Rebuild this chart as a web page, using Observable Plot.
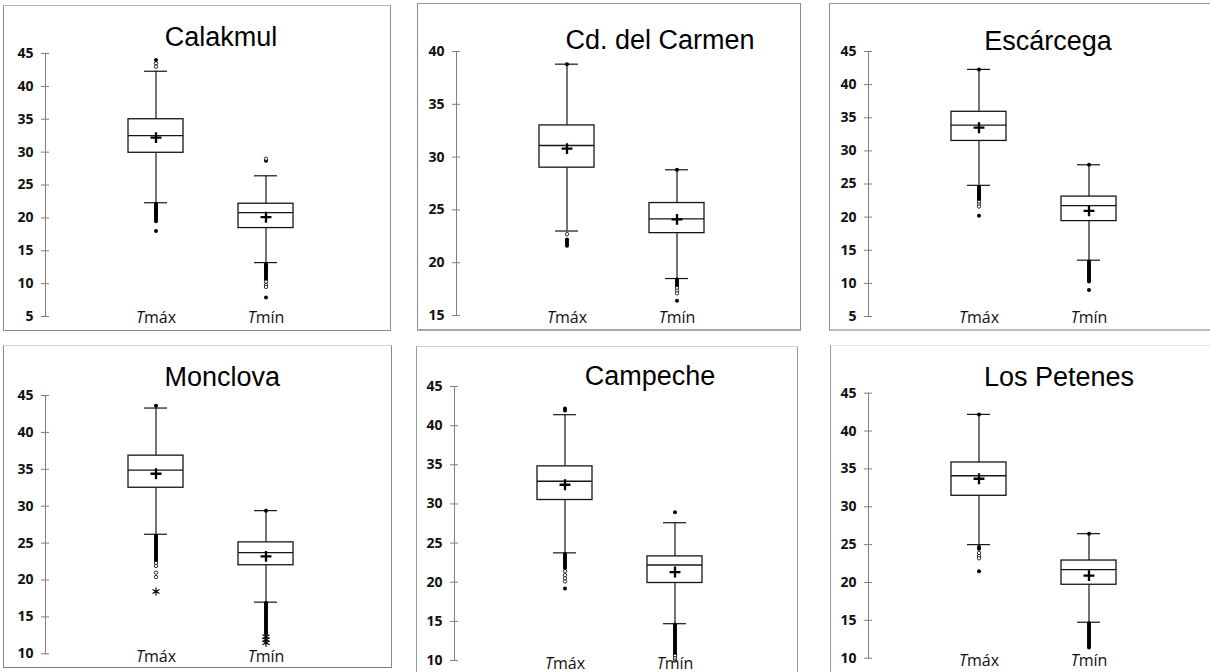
<!DOCTYPE html>
<html><head><meta charset="utf-8">
<script src="https://cdn.jsdelivr.net/npm/d3@7"></script>
<script src="https://cdn.jsdelivr.net/npm/@observablehq/plot@0.6"></script>
<style>
html,body{margin:0;padding:0;background:#fff;}
body{width:1210px;height:672px;overflow:hidden;position:relative;}
.panel{position:absolute;}
.panel svg{display:block;}
.border{position:absolute;box-sizing:border-box;pointer-events:none;}
</style></head><body>
<script>
// ---------- data ----------
const stations = ["Calakmul", "Cd. del Carmen", "Escárcega", "Monclova", "Campeche", "Los Petenes"];
const categories = ["Tmáx", "Tmín"];
const yDomains = [[5, 45], [15, 40], [5, 45], [10, 45], [10, 45], [10, 45]];
const yTicks = [
  [5, 10, 15, 20, 25, 30, 35, 40, 45],
  [15, 20, 25, 30, 35, 40],
  [5, 10, 15, 20, 25, 30, 35, 40, 45],
  [10, 15, 20, 25, 30, 35, 40, 45],
  [10, 15, 20, 25, 30, 35, 40, 45],
  [10, 15, 20, 25, 30, 35, 40, 45]
];
// [Tmáx, Tmín] per station
const lowerWhisker = [[22.3, 13.2], [23.0, 18.5], [24.8, 13.5], [26.2, 17.0], [23.75, 14.7], [25.0, 14.75]];
const q1 = [[29.9, 18.45], [29.0, 22.8], [31.5, 19.4], [32.5, 22.0], [30.5, 19.9], [31.45, 19.7]];
const median = [[32.5, 20.8], [31.1, 24.15], [33.9, 21.75], [34.9, 23.7], [32.9, 22.2], [34.1, 21.7]];
const q3 = [[35.0, 22.15], [33.0, 25.65], [35.9, 23.1], [36.85, 25.1], [34.8, 23.3], [35.85, 22.9]];
const upperWhisker = [[42.3, 26.4], [38.8, 28.8], [42.3, 27.9], [43.3, 29.4], [41.4, 27.6], [42.2, 26.45]];
const mean = [[32.2, 20.1], [30.8, 24.1], [33.5, 20.95], [34.4, 23.2], [32.45, 21.3], [33.7, 20.9]];

const outFilled = [
  [[44.0, 22.1, 21.9, 21.7, 21.5, 21.3, 21.1, 20.9, 20.7, 20.5, 20.3, 20.1, 19.9, 19.7, 19.5, 18.0],
   [28.7, 13.0, 12.8, 12.6, 12.4, 12.2, 12.0, 11.8, 11.6, 11.4, 11.2, 11.0, 10.8, 10.6, 7.9]],
  [[38.8, 22.2, 22.05, 21.9, 21.75, 21.6],
   [28.8, 18.4, 18.25, 18.1, 17.95, 17.8, 16.4]],
  [[42.3, 24.6, 24.4, 24.2, 24.0, 23.8, 23.6, 23.4, 23.2, 23.0, 22.8, 22.6, 20.2],
   [27.9, 13.3, 13.1, 12.9, 12.7, 12.5, 12.3, 12.1, 11.9, 11.7, 11.5, 11.3, 11.1, 10.9, 10.7, 10.5, 10.3, 9.0]],
  [[43.6, 26.0, 25.8, 25.6, 25.4, 25.2, 25.0, 24.8, 24.6, 24.4, 24.2, 24.0, 23.8, 23.6, 23.4, 23.2, 23.0, 22.8, 22.6],
   [29.4, 16.9, 16.7, 16.5, 16.3, 16.1, 15.9, 15.7, 15.5, 15.3, 15.1, 14.9, 14.7, 14.5, 14.3, 14.1, 13.9, 13.7, 13.5, 13.3, 13.1, 12.9, 12.7]],
  [[42.2, 41.95, 23.6, 23.4, 23.2, 23.0, 22.8, 22.6, 22.4, 22.2, 22.0, 21.8, 19.2],
   [28.95, 14.6, 14.4, 14.2, 14.0, 13.8, 13.6, 13.4, 13.2, 13.0, 12.8, 12.6, 12.4, 12.2, 12.0, 11.8, 11.6, 11.4, 11.2, 11.0, 10.8]],
  [[42.2, 24.7, 24.45, 21.5],
   [26.45, 14.6, 14.4, 14.2, 14.0, 13.8, 13.6, 13.4, 13.2, 13.0, 12.8, 12.6, 12.4, 12.2, 12.0, 11.8, 11.6, 11.4]]
];
const outOpen = [
  [[43.5, 43.0], [29.0, 10.3, 9.8, 9.5]],
  [[22.7], [17.6, 17.35, 17.1]],
  [[22.3, 21.9, 21.6], []],
  [[22.3, 21.9, 21.0, 20.4], []],
  [[21.4, 20.9, 20.5, 20.1], [10.6, 10.3, 10.0]],
  [[23.9, 23.5, 23.2], []]
];
const outStar = [
  [[], []], [[], []], [[], []],
  [[18.45], [12.3, 11.9, 11.5]],
  [[], []], [[], []]
];

// ---------- layout (page pixels) ----------
const layout = [
  {left: 3, top: 5, width: 388, height: 326, axisX: 45, yTop: 53, yBot: 316, titleDx: 10.5, titleDy: -7.3, labelOff: 6.7,
   border: {borderTop: "1px solid #b4b4b4", borderLeft: "1px solid #8a8a8a", borderRight: "1px solid #8a8a8a", borderBottom: "1px solid #8a8a8a"}},
  {left: 417, top: 3, width: 384, height: 328, axisX: 456, yTop: 51, yBot: 315, titleDx: 38.5, titleDy: -2.7, labelOff: 7.7,
   border: {borderTop: "1px solid #9a9a9a", borderLeft: "1px solid #8a8a8a", borderRight: "1px solid #8a8a8a", borderBottom: "2px solid #a8a8a8"}},
  {left: 829, top: 3, width: 385, height: 328, axisX: 868, yTop: 51, yBot: 316, titleDx: 14.5, titleDy: -2, labelOff: 6.7,
   border: {borderTop: "1px solid #9a9a9a", borderLeft: "1px solid #8a8a8a", borderBottom: "2px solid #bdbdbd"}},
  {left: 3, top: 345, width: 389, height: 323, axisX: 45, yTop: 395, yBot: 653.3, titleDx: 11.7, titleDy: -9.3, labelOff: 7.7,
   border: {borderTop: "1px solid #d4d4d4", borderLeft: "1px solid #8a8a8a", borderRight: "1px solid #8a8a8a", borderBottom: "1px solid #7a7a7a"}},
  {left: 416, top: 346, width: 382, height: 344, axisX: 454, yTop: 386, yBot: 660, titleDx: 30.5, titleDy: -1.7, labelOff: 8.5,
   border: {borderTop: "1px solid #d4d4d4", borderLeft: "1px solid #9a9a9a", borderRight: "1px solid #9a9a9a"}},
  {left: 830, top: 345, width: 385, height: 345, axisX: 868, yTop: 392.7, yBot: 657.7, titleDx: 25.5, titleDy: -7.7, labelOff: 7.3,
   border: {borderTop: "1px solid #e6e6e6", borderLeft: "1px solid #9a9a9a"}}
];

const ink = "#161616";

stations.forEach((name, i) => {
  const L = layout[i];
  const mL = L.axisX - L.left;
  const mR = L.width - mL - 330;
  const mT = L.yTop - L.top;
  const mB = L.height - (L.yBot - L.top);

  const boxes = categories.map((c, j) => ({
    cat: c, lo: lowerWhisker[i][j], q1: q1[i][j], med: median[i][j], q3: q3[i][j], hi: upperWhisker[i][j], mean: mean[i][j]
  }));
  const toRows = arr => categories.flatMap((c, j) => arr[i][j].map(v => ({cat: c, v})));
  const filled = toRows(outFilled), open = toRows(outOpen), stars = toRows(outStar);

  const chart = Plot.plot({
    width: L.width, height: L.height,
    marginLeft: mL, marginRight: mR, marginTop: mT, marginBottom: mB,
    x: {type: "band", domain: categories, paddingInner: 0.5, paddingOuter: 0.75, align: 0.5, axis: null},
    y: {domain: yDomains[i], axis: null},
    style: {fontFamily: "'Open Sans', sans-serif", fontSize: "14px", background: "transparent", overflow: "visible"},
    marks: [
      Plot.frame({anchor: "left", stroke: "#808080", strokeWidth: 1}),
      Plot.axisY({ticks: yTicks[i], tickSize: 8, dx: 4, tickPadding: 8, stroke: "#808080", fill: "#111",
                  fontWeight: "bold", fontSize: 14, label: null, tickFormat: d => String(d)}),
      Plot.ruleX(boxes, {x: "cat", y1: "lo", y2: "q1", stroke: ink, strokeWidth: 1.2}),
      Plot.ruleX(boxes, {x: "cat", y1: "q3", y2: "hi", stroke: ink, strokeWidth: 1.2}),
      Plot.tickY(boxes, {x: "cat", y: "lo", stroke: ink, strokeWidth: 1.2, insetLeft: 16, insetRight: 16}),
      Plot.tickY(boxes, {x: "cat", y: "hi", stroke: ink, strokeWidth: 1.2, insetLeft: 16, insetRight: 16}),
      Plot.barY(boxes, {x: "cat", y1: "q1", y2: "q3", fill: "white", stroke: ink, strokeWidth: 1.3}),
      Plot.tickY(boxes, {x: "cat", y: "med", stroke: ink, strokeWidth: 1.3}),
      Plot.dot(boxes, {x: "cat", y: "mean", symbol: "plus", r: 3.6, stroke: "#000", strokeWidth: 2.3}),
      Plot.dot(filled, {x: "cat", y: "v", r: 2, fill: "#000"}),
      Plot.dot(open, {x: "cat", y: "v", r: 1.7, fill: "white", stroke: "#000", strokeWidth: 0.8}),
      Plot.dot(stars, {x: "cat", y: "v", symbol: "asterisk", r: 3.8, stroke: "#000", strokeWidth: 1.2}),
      Plot.text([name], {frameAnchor: "top", text: d => d, dx: L.titleDx, dy: L.titleDy, lineAnchor: "bottom",
                         fontFamily: "'Liberation Sans', Arial, sans-serif", fontSize: 27, fontWeight: "normal", fill: "#000"}),
      Plot.text(categories, {x: d => d, text: d => d, frameAnchor: "bottom", dy: L.labelOff, lineAnchor: "bottom",
                             fontFamily: "'Open Sans', sans-serif", fontSize: 16, fontWeight: "normal", fill: "#111"})
    ]
  });

  // italic "T" in category labels
  const ns = "http://www.w3.org/2000/svg";
  chart.querySelectorAll("text").forEach(t => {
    const s = t.textContent;
    if (categories.includes(s)) {
      t.textContent = "";
      const a = document.createElementNS(ns, "tspan");
      a.setAttribute("font-style", "italic");
      a.textContent = s[0];
      const b = document.createElementNS(ns, "tspan");
      b.textContent = s.slice(1);
      t.append(a, b);
    }
  });

  const div = document.createElement("div");
  div.className = "panel";
  Object.assign(div.style, {left: L.left + "px", top: L.top + "px", width: L.width + "px", height: L.height + "px"});
  div.appendChild(chart);
  document.body.appendChild(div);

  const b = document.createElement("div");
  b.className = "border";
  Object.assign(b.style, {left: L.left + "px", top: L.top + "px", width: L.width + "px", height: L.height + "px"}, L.border);
  document.body.appendChild(b);
});
</script>
</body></html>
